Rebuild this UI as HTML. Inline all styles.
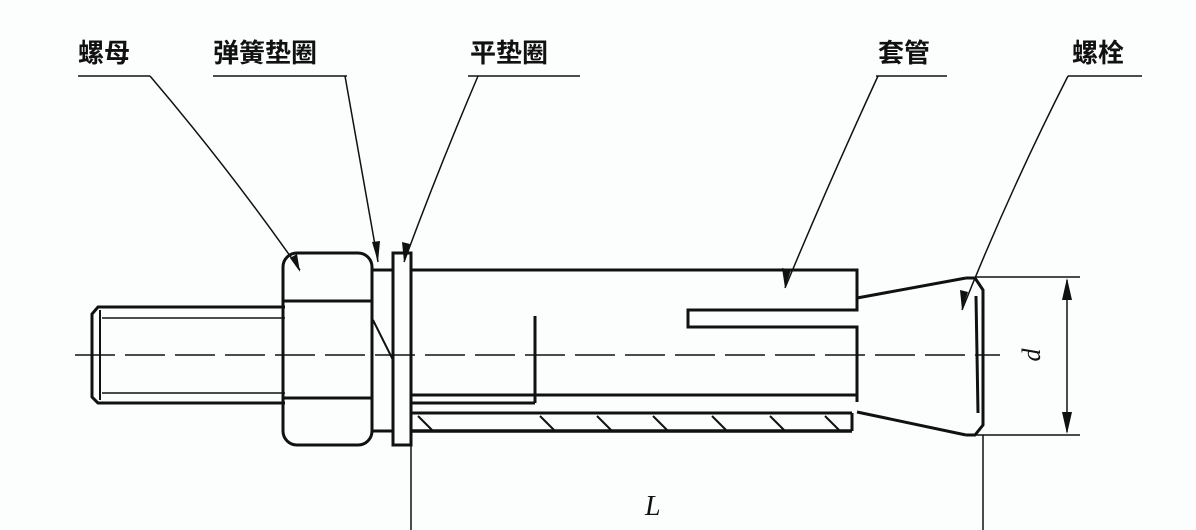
<!DOCTYPE html>
<html><head><meta charset="utf-8"><style>
html,body{margin:0;padding:0;background:#fcfdfd;}
svg{display:block}
text{font-family:"Liberation Sans","Noto Sans CJK SC",sans-serif;font-weight:bold;font-size:26px;fill:#111}
</style></head><body>
<svg width="1196" height="530" viewBox="0 0 1196 530" xmlns="http://www.w3.org/2000/svg">
<g stroke="#111" fill="none" stroke-width="3">
<line x1="78" y1="76" x2="150" y2="76" stroke-width="1.5"/>
<line x1="213" y1="76" x2="347" y2="76" stroke-width="1.5"/>
<line x1="468" y1="76" x2="580" y2="76" stroke-width="1.5"/>
<line x1="876" y1="76" x2="947" y2="76" stroke-width="1.5"/>
<line x1="1068" y1="76" x2="1142" y2="76" stroke-width="1.5"/>
<path d="M150,76 Q230,170 300,270" stroke-width="1.5"/>
<path d="M345,76 Q362,170 378,262" stroke-width="1.5"/>
<path d="M478,76 Q438,170 404,262" stroke-width="1.5"/>
<path d="M878,76 Q830,180 785,288" stroke-width="1.5"/>
<path d="M1068,76 Q1010,190 962,310" stroke-width="1.5"/>
<path d="M285,307 H98 L92,314 V397 L98,403 H285"/>
<line x1="100" y1="310" x2="100" y2="400" stroke-width="2"/>
<line x1="102" y1="318" x2="285" y2="318" stroke-width="1.5"/>
<line x1="102" y1="393" x2="285" y2="393" stroke-width="1.5"/>
<rect x="283" y="253" width="89" height="192" rx="14"/>
<line x1="283" y1="301" x2="372" y2="301"/>
<line x1="283" y1="398" x2="372" y2="398"/>
<rect x="372" y="270" width="21" height="161"/>
<line x1="373" y1="320" x2="393" y2="360" stroke-width="2"/>
<rect x="393" y="253" width="18" height="192"/>
<path d="M411,270 H857 V310 H688 V327 H857 V402"/>
<line x1="411" y1="395" x2="857" y2="395"/>
<line x1="535" y1="316" x2="535" y2="403"/>
<line x1="411" y1="403" x2="535" y2="403"/>
<line x1="411" y1="413" x2="852" y2="413"/>
<line x1="411" y1="431" x2="852" y2="431" stroke-width="3.5"/>
<line x1="852" y1="413" x2="852" y2="431"/>
<g stroke-width="2">
<line x1="418" y1="416" x2="432" y2="430"/>
<line x1="540" y1="416" x2="554" y2="430"/>
<line x1="597" y1="416" x2="611" y2="430"/>
<line x1="653" y1="416" x2="667" y2="430"/>
<line x1="712" y1="416" x2="726" y2="430"/>
<line x1="770" y1="416" x2="784" y2="430"/>
<line x1="825" y1="416" x2="839" y2="430"/>
</g>
<line x1="857" y1="298" x2="966" y2="278"/>
<line x1="857" y1="412" x2="966" y2="435"/>
<path d="M966,278 L975,278 L983,290 V425 L975,435 H966"/>
<line x1="976" y1="296" x2="978" y2="413" stroke-width="3"/>
<line x1="975" y1="277" x2="1080" y2="277" stroke-width="1.5"/>
<line x1="975" y1="435" x2="1080" y2="435" stroke-width="1.5"/>
<line x1="1067" y1="280" x2="1067" y2="432" stroke-width="1.5"/>
<line x1="983" y1="435" x2="983" y2="530" stroke-width="1.5"/>
<line x1="411" y1="445" x2="411" y2="530" stroke-width="1.5"/>
<line x1="75" y1="355" x2="1000" y2="355" stroke-width="1.5" stroke-dasharray="40,10"/>
</g>
<g fill="#111">
<polygon points="1067,278 1062,300 1072,300"/>
<polygon points="1067,434 1062,412 1072,412"/>
<polygon points="300,272 290,258 297,254"/>
<polygon points="378,262 372,242 380,241"/>
<polygon points="404,262 402,242 410,244"/>
<polygon points="785,288 782,268 791,270"/>
<polygon points="962,310 960,290 968,292"/>
</g>
<text x="78" y="62">螺母</text>
<text x="213" y="62">弹簧垫圈</text>
<text x="470" y="62">平垫圈</text>
<text x="878" y="62">套管</text>
<text x="1072" y="62">螺栓</text>
<text x="0" y="0" transform="translate(1040,355) rotate(-90)" style="font-family:'Liberation Serif',serif;font-style:italic;font-weight:normal;font-size:26px" text-anchor="middle">d</text>
<text x="645" y="515" style="font-family:'Liberation Serif',serif;font-style:italic;font-weight:normal;font-size:28px">L</text>
</svg>
</body></html>
